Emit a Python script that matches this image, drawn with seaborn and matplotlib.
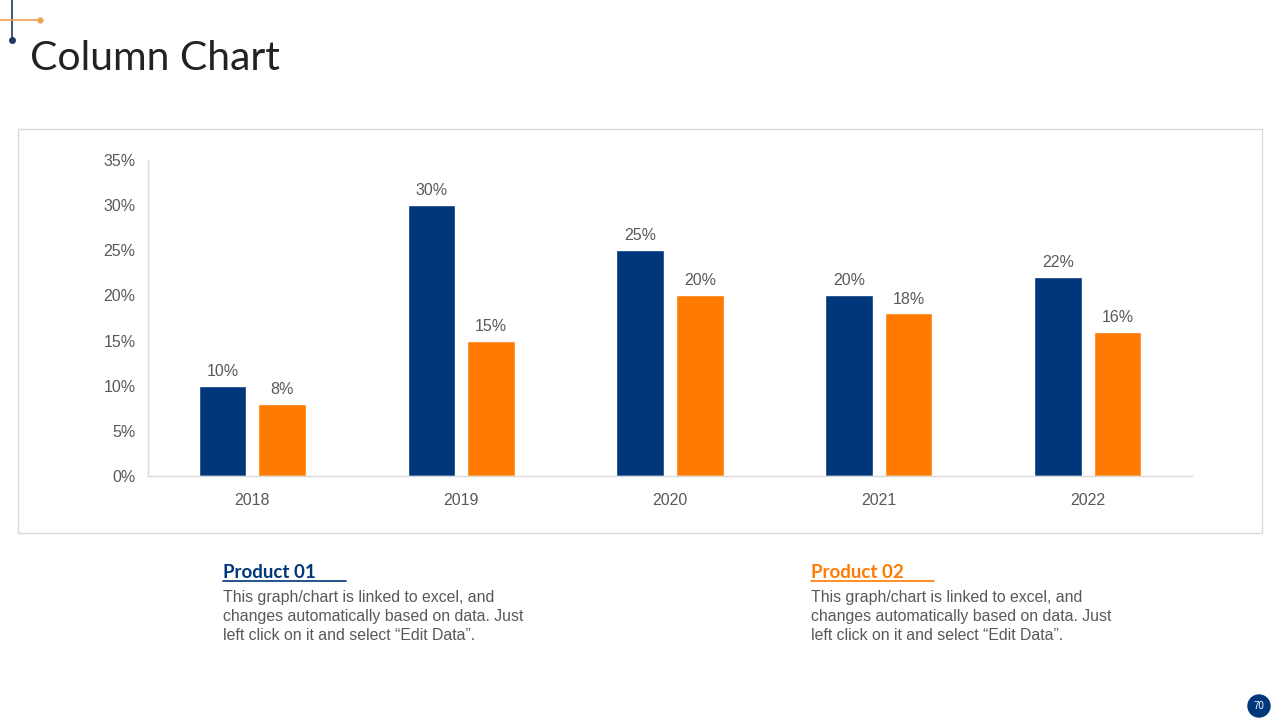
import numpy as np
import pandas as pd
import matplotlib.pyplot as plt
import matplotlib.patches as patches
import matplotlib.lines as mlines
import seaborn as sns

years = ["2018", "2019", "2020", "2021", "2022"]
product_01 = [10, 30, 25, 20, 22]
product_02 = [8, 15, 20, 18, 16]
series_names = ["Product 01", "Product 02"]
y_ticks = [0, 5, 10, 15, 20, 25, 30, 35]
blurb = "This graph/chart is linked to excel, and\nchanges automatically based on data. Just\nleft click on it and select \u201cEdit Data\u201d."

navy = "#00367A"
orange = "#FF7A00"
grey = "#595959"

df = pd.DataFrame({
    "year": years * 2,
    "value": product_01 + product_02,
    "product": [series_names[0]] * len(years) + [series_names[1]] * len(years),
})

sns.set_style("white")
plt.rcParams["font.family"] = ["Liberation Sans", "DejaVu Sans"]

fig = plt.figure(figsize=(12.8, 7.2), dpi=100)
fig.patch.set_facecolor("white")

# chart frame
fig.patches.append(patches.Rectangle((18 / 1280, 1 - 533 / 720), 1244 / 1280, 404 / 720,
                                     transform=fig.transFigure, fill=False,
                                     edgecolor="#D9D9D9", linewidth=1))

ax = fig.add_axes([148 / 1280, 1 - 476 / 720, 1044 / 1280, 316 / 720])
sns.barplot(data=df, x="year", y="value", hue="product", palette=[navy, orange],
            width=0.57, gap=0.2, saturation=1, legend=False, ax=ax)

for c in ax.containers:
    ax.bar_label(c, labels=[f"{v:.0f}%" for v in c.datavalues], padding=5,
                 fontsize=11.5, color=grey)

ax.set_ylim(0, 35)
ax.set_xlim(-0.5, 4.5)
ax.set_yticks(y_ticks)
ax.set_yticklabels([f"{t}%" for t in y_ticks])
ax.set_xlabel("")
ax.set_ylabel("")
ax.tick_params(axis="y", length=4, color="#D9D9D9", labelsize=11.5, labelcolor=grey, pad=5)
ax.tick_params(axis="x", length=0, labelsize=11.5, labelcolor=grey, pad=12)
for s in ["top", "right"]:
    ax.spines[s].set_visible(False)
for s in ["left", "bottom"]:
    ax.spines[s].set_color("#D9D9D9")
    ax.spines[s].set_linewidth(1)

# title and corner decoration
fig.text(30 / 1280, 1 - 59 / 720, "Column Chart", fontsize=29.5, color="#222222",
         va="center", ha="left", family=["Lato", "DejaVu Sans"])
fig.add_artist(mlines.Line2D([12 / 1280, 12 / 1280], [1, 1 - 40 / 720], color="#1F3864", lw=1.2))
fig.add_artist(mlines.Line2D([12 / 1280], [1 - 40 / 720], marker="o", ms=4, color="#1F3864"))
fig.add_artist(mlines.Line2D([0, 40 / 1280], [1 - 20 / 720, 1 - 20 / 720], color="#F0A050", lw=1.2))
fig.add_artist(mlines.Line2D([40 / 1280], [1 - 20 / 720], marker="o", ms=3.5, color="#F0A050"))

# product captions
for x0, name, col in [(223, series_names[0], navy), (811, series_names[1], orange)]:
    fig.text(x0 / 1280, 1 - 572 / 720, name, fontsize=13.5, fontweight="bold", color=col,
             va="center", ha="left", family=["Lato", "DejaVu Sans"])
    fig.add_artist(mlines.Line2D([x0 / 1280, (x0 + 123) / 1280], [1 - 581 / 720] * 2,
                                 color=col, lw=1.2))
    fig.text(x0 / 1280, 1 - 590 / 720, blurb, fontsize=11.45, color=grey, va="top",
             ha="left", linespacing=1.35)

# page number
fig.patches.append(patches.Circle((12.59, 7.2 - 7.06), 0.11,
                                  transform=fig.dpi_scale_trans, color=navy))
fig.text(1259 / 1280, 1 - 706 / 720, "70", fontsize=7, color="white",
         ha="center", va="center")

fig.savefig("out.png", dpi=100)
